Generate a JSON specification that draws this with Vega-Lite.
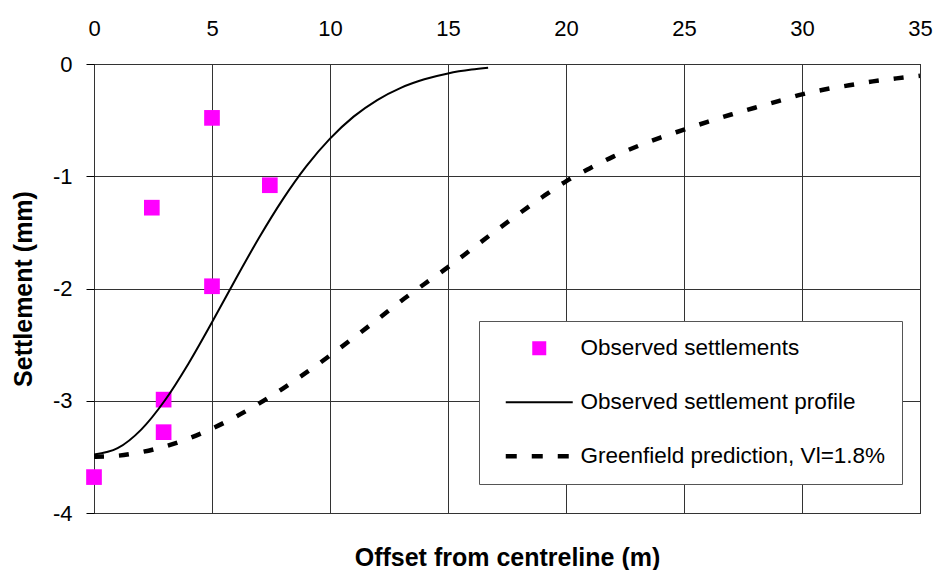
{
  "$schema": "https://vega.github.io/schema/vega-lite/v6.json",
  "width": 826,
  "height": 449,
  "autosize": "none",
  "padding": {"left": 94, "top": 64, "right": 15, "bottom": 57},
  "background": "white",
  "config": {
    "view": {"stroke": "black", "strokeWidth": 1},
    "font": "Liberation Sans",
    "axis": {"labelFont": "Liberation Sans", "titleFont": "Liberation Sans", "labelColor": "black", "titleColor": "black"}
  },
  "datasets": {
    "obs": [
      {"x": 2.45, "y": -1.28, "s": "Observed settlements"},
      {"x": 5.0, "y": -0.48, "s": "Observed settlements"},
      {"x": 7.45, "y": -1.08, "s": "Observed settlements"},
      {"x": 5.0, "y": -1.98, "s": "Observed settlements"},
      {"x": 2.95, "y": -2.99, "s": "Observed settlements"},
      {"x": 2.95, "y": -3.28, "s": "Observed settlements"},
      {"x": 0.0, "y": -3.68, "s": "Observed settlements"}
    ],
    "profile": [
      {"x": 0, "y": -3.48, "s": "Observed settlement profile"},
      {"x": 1, "y": -3.423, "s": "Observed settlement profile"},
      {"x": 2, "y": -3.257, "s": "Observed settlement profile"},
      {"x": 3, "y": -2.998, "s": "Observed settlement profile"},
      {"x": 4, "y": -2.67, "s": "Observed settlement profile"},
      {"x": 5, "y": -2.301, "s": "Observed settlement profile"},
      {"x": 6, "y": -1.917, "s": "Observed settlement profile"},
      {"x": 7, "y": -1.546, "s": "Observed settlement profile"},
      {"x": 8, "y": -1.206, "s": "Observed settlement profile"},
      {"x": 9, "y": -0.91, "s": "Observed settlement profile"},
      {"x": 10, "y": -0.665, "s": "Observed settlement profile"},
      {"x": 11, "y": -0.469, "s": "Observed settlement profile"},
      {"x": 12, "y": -0.321, "s": "Observed settlement profile"},
      {"x": 13, "y": -0.212, "s": "Observed settlement profile"},
      {"x": 14, "y": -0.136, "s": "Observed settlement profile"},
      {"x": 15, "y": -0.084, "s": "Observed settlement profile"},
      {"x": 16, "y": -0.05, "s": "Observed settlement profile"},
      {"x": 16.7, "y": -0.034, "s": "Observed settlement profile"}
    ],
    "green": [
      {"x": 0, "y": -3.5, "s": "Greenfield prediction, Vl=1.8%"},
      {"x": 1, "y": -3.49, "s": "Greenfield prediction, Vl=1.8%"},
      {"x": 2, "y": -3.458, "s": "Greenfield prediction, Vl=1.8%"},
      {"x": 3, "y": -3.407, "s": "Greenfield prediction, Vl=1.8%"},
      {"x": 4, "y": -3.337, "s": "Greenfield prediction, Vl=1.8%"},
      {"x": 5, "y": -3.248, "s": "Greenfield prediction, Vl=1.8%"},
      {"x": 6, "y": -3.143, "s": "Greenfield prediction, Vl=1.8%"},
      {"x": 7, "y": -3.024, "s": "Greenfield prediction, Vl=1.8%"},
      {"x": 8, "y": -2.891, "s": "Greenfield prediction, Vl=1.8%"},
      {"x": 9, "y": -2.748, "s": "Greenfield prediction, Vl=1.8%"},
      {"x": 10, "y": -2.597, "s": "Greenfield prediction, Vl=1.8%"},
      {"x": 11, "y": -2.439, "s": "Greenfield prediction, Vl=1.8%"},
      {"x": 12, "y": -2.277, "s": "Greenfield prediction, Vl=1.8%"},
      {"x": 13, "y": -2.113, "s": "Greenfield prediction, Vl=1.8%"},
      {"x": 14, "y": -1.96, "s": "Greenfield prediction, Vl=1.8%"},
      {"x": 15, "y": -1.81, "s": "Greenfield prediction, Vl=1.8%"},
      {"x": 16, "y": -1.65, "s": "Greenfield prediction, Vl=1.8%"},
      {"x": 17, "y": -1.49, "s": "Greenfield prediction, Vl=1.8%"},
      {"x": 18, "y": -1.335, "s": "Greenfield prediction, Vl=1.8%"},
      {"x": 19, "y": -1.185, "s": "Greenfield prediction, Vl=1.8%"},
      {"x": 20, "y": -1.045, "s": "Greenfield prediction, Vl=1.8%"},
      {"x": 21, "y": -0.93, "s": "Greenfield prediction, Vl=1.8%"},
      {"x": 22, "y": -0.825, "s": "Greenfield prediction, Vl=1.8%"},
      {"x": 23, "y": -0.735, "s": "Greenfield prediction, Vl=1.8%"},
      {"x": 24, "y": -0.655, "s": "Greenfield prediction, Vl=1.8%"},
      {"x": 25, "y": -0.585, "s": "Greenfield prediction, Vl=1.8%"},
      {"x": 26, "y": -0.515, "s": "Greenfield prediction, Vl=1.8%"},
      {"x": 27, "y": -0.45, "s": "Greenfield prediction, Vl=1.8%"},
      {"x": 28, "y": -0.39, "s": "Greenfield prediction, Vl=1.8%"},
      {"x": 29, "y": -0.33, "s": "Greenfield prediction, Vl=1.8%"},
      {"x": 30, "y": -0.27, "s": "Greenfield prediction, Vl=1.8%"},
      {"x": 31, "y": -0.225, "s": "Greenfield prediction, Vl=1.8%"},
      {"x": 32, "y": -0.19, "s": "Greenfield prediction, Vl=1.8%"},
      {"x": 33, "y": -0.155, "s": "Greenfield prediction, Vl=1.8%"},
      {"x": 34, "y": -0.128, "s": "Greenfield prediction, Vl=1.8%"},
      {"x": 35, "y": -0.105, "s": "Greenfield prediction, Vl=1.8%"}
    ]
  },
  "resolve": {"axis": {"x": "independent"}},
  "layer": [
    {
      "data": {"name": "obs"},
      "mark": {"type": "point", "shape": "square", "filled": true, "size": 246, "opacity": 1, "clip": false},
      "encoding": {
        "x": {"field": "x", "type": "quantitative", "scale": {"domain": [0, 35], "nice": false, "zero": false},
          "axis": {"orient": "top", "values": [0, 5, 10, 15, 20, 25, 30, 35], "title": null, "grid": true, "gridColor": "#333333", "gridWidth": 1, "ticks": false, "domain": false, "labelFontSize": 22, "labelPadding": 24, "labelFlush": false}},
        "y": {"field": "y", "type": "quantitative", "scale": {"domain": [-4, 0], "nice": false, "zero": false},
          "axis": {"values": [-4, -3, -2, -1, 0], "title": "Settlement (mm)", "titleFontSize": 25, "titleFontWeight": "bold", "titlePadding": 16, "grid": true, "gridColor": "#333333", "gridWidth": 1, "ticks": true, "tickSize": 8, "tickColor": "black", "domain": false, "labelFontSize": 22, "labelPadding": 14, "labelExpr": "datum.value + ''"}},
        "color": {"field": "s", "type": "nominal",
          "scale": {"domain": ["Observed settlements", "Observed settlement profile", "Greenfield prediction, Vl=1.8%"], "range": ["#ff00ff", "black", "black"]},
          "legend": {"orient": "none", "legendX": 385, "legendY": 257, "direction": "vertical", "title": null, "strokeColor": "#555555", "fillColor": "white", "padding": 16, "labelFont": "Liberation Sans", "labelFontSize": 22.5, "labelColor": "black", "labelLimit": 500, "symbolType": "stroke", "symbolSize": 4489, "symbolOffset": 33, "labelOffset": 30, "rowPadding": 31,
            "encode": {"symbols": {"update": {
              "shape": {"signal": "datum.value === 'Observed settlements' ? 'square' : 'stroke'"},
              "size": {"signal": "datum.value === 'Observed settlements' ? 196 : 4489"},
              "fill": {"signal": "datum.value === 'Observed settlements' ? '#ff00ff' : 'transparent'"},
              "stroke": {"signal": "datum.value === 'Observed settlements' ? 'transparent' : 'black'"},
              "strokeWidth": {"signal": "datum.value === 'Observed settlements' ? 0 : (datum.value === 'Observed settlement profile' ? 2 : 4.5)"},
              "strokeDash": {"signal": "datum.value === 'Greenfield prediction, Vl=1.8%' ? [11, 15] : [1, 0]"},
              "opacity": {"value": 1}
            }}}}
        }
      }
    },
    {
      "data": {"name": "profile"},
      "mark": {"type": "line", "strokeWidth": 2, "interpolate": "monotone", "clip": true},
      "encoding": {
        "x": {"field": "x", "type": "quantitative", "scale": {"domain": [0, 35], "nice": false, "zero": false},
          "axis": {"orient": "bottom", "title": "Offset from centreline (m)", "titleFontSize": 25, "titleFontWeight": "bold", "titlePadding": 32, "labels": false, "ticks": false, "domain": false, "grid": false}},
        "y": {"field": "y", "type": "quantitative", "scale": {"domain": [-4, 0], "nice": false, "zero": false},
          "axis": {"values": [-4, -3, -2, -1, 0], "title": "Settlement (mm)", "titleFontSize": 25, "titleFontWeight": "bold", "titlePadding": 16, "grid": true, "gridColor": "#333333", "gridWidth": 1, "ticks": true, "tickSize": 8, "tickColor": "black", "domain": false, "labelFontSize": 22, "labelPadding": 14, "labelExpr": "datum.value + ''"}},
        "color": {"field": "s", "type": "nominal",
          "scale": {"domain": ["Observed settlements", "Observed settlement profile", "Greenfield prediction, Vl=1.8%"], "range": ["#ff00ff", "black", "black"]},
          "legend": {"orient": "none", "legendX": 385, "legendY": 257, "direction": "vertical", "title": null, "strokeColor": "#555555", "fillColor": "white", "padding": 16, "labelFont": "Liberation Sans", "labelFontSize": 22.5, "labelColor": "black", "labelLimit": 500, "symbolType": "stroke", "symbolSize": 4489, "symbolOffset": 33, "labelOffset": 30, "rowPadding": 31,
            "encode": {"symbols": {"update": {
              "shape": {"signal": "datum.value === 'Observed settlements' ? 'square' : 'stroke'"},
              "size": {"signal": "datum.value === 'Observed settlements' ? 196 : 4489"},
              "fill": {"signal": "datum.value === 'Observed settlements' ? '#ff00ff' : 'transparent'"},
              "stroke": {"signal": "datum.value === 'Observed settlements' ? 'transparent' : 'black'"},
              "strokeWidth": {"signal": "datum.value === 'Observed settlements' ? 0 : (datum.value === 'Observed settlement profile' ? 2 : 4.5)"},
              "strokeDash": {"signal": "datum.value === 'Greenfield prediction, Vl=1.8%' ? [11, 15] : [1, 0]"},
              "opacity": {"value": 1}
            }}}}
        }
      }
    },
    {
      "data": {"name": "green"},
      "mark": {"type": "line", "strokeWidth": 4.5, "strokeDash": [10, 15], "interpolate": "monotone", "clip": true},
      "encoding": {
        "x": {"field": "x", "type": "quantitative", "scale": {"domain": [0, 35], "nice": false, "zero": false}, "axis": null},
        "y": {"field": "y", "type": "quantitative", "scale": {"domain": [-4, 0], "nice": false, "zero": false},
          "axis": {"values": [-4, -3, -2, -1, 0], "title": "Settlement (mm)", "titleFontSize": 25, "titleFontWeight": "bold", "titlePadding": 16, "grid": true, "gridColor": "#333333", "gridWidth": 1, "ticks": true, "tickSize": 8, "tickColor": "black", "domain": false, "labelFontSize": 22, "labelPadding": 14, "labelExpr": "datum.value + ''"}},
        "color": {"field": "s", "type": "nominal",
          "scale": {"domain": ["Observed settlements", "Observed settlement profile", "Greenfield prediction, Vl=1.8%"], "range": ["#ff00ff", "black", "black"]},
          "legend": {"orient": "none", "legendX": 385, "legendY": 257, "direction": "vertical", "title": null, "strokeColor": "#555555", "fillColor": "white", "padding": 16, "labelFont": "Liberation Sans", "labelFontSize": 22.5, "labelColor": "black", "labelLimit": 500, "symbolType": "stroke", "symbolSize": 4489, "symbolOffset": 33, "labelOffset": 30, "rowPadding": 31,
            "encode": {"symbols": {"update": {
              "shape": {"signal": "datum.value === 'Observed settlements' ? 'square' : 'stroke'"},
              "size": {"signal": "datum.value === 'Observed settlements' ? 196 : 4489"},
              "fill": {"signal": "datum.value === 'Observed settlements' ? '#ff00ff' : 'transparent'"},
              "stroke": {"signal": "datum.value === 'Observed settlements' ? 'transparent' : 'black'"},
              "strokeWidth": {"signal": "datum.value === 'Observed settlements' ? 0 : (datum.value === 'Observed settlement profile' ? 2 : 4.5)"},
              "strokeDash": {"signal": "datum.value === 'Greenfield prediction, Vl=1.8%' ? [11, 15] : [1, 0]"},
              "opacity": {"value": 1}
            }}}}
        }
      }
    }
  ]
}
